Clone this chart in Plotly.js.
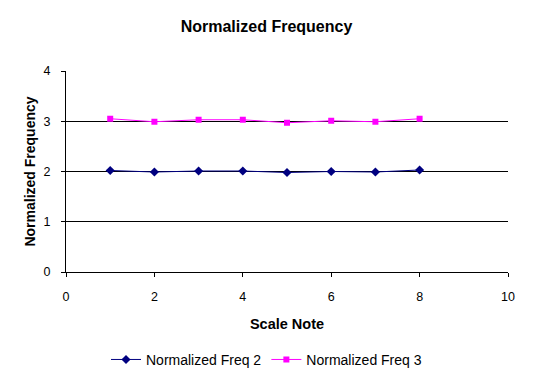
<!DOCTYPE html>
<html><head><meta charset="utf-8">
<script src="https://cdn.plot.ly/plotly-3.0.1.min.js"></script>
<style>html,body{margin:0;padding:0;background:#fff}#chart{width:533px;height:378px}</style>
</head><body><div id="chart"></div>
<script>
const scaleNotes = [1, 2, 3, 4, 5, 6, 7, 8];
const normFreq2 = [2.02, 1.99, 2.01, 2.01, 1.98, 2.00, 1.99, 2.03];
const normFreq3 = [3.05, 2.99, 3.03, 3.03, 2.97, 3.01, 2.99, 3.05];
const seriesNames = ['Normalized Freq 2', 'Normalized Freq 3'];

const font = 'Liberation Sans, Arial, sans-serif';
const traces = [
  {x: scaleNotes, y: normFreq2, name: seriesNames[0], mode: 'lines+markers',
   line: {color: '#000080', width: 1}, marker: {symbol: 'diamond', size: 7, color: '#000080'}},
  {x: scaleNotes, y: normFreq3, name: seriesNames[1], mode: 'lines+markers',
   line: {color: '#FF00FF', width: 1}, marker: {symbol: 'square', size: 6, color: '#FF00FF'}}
];
const layout = {
  width: 533, height: 378,
  margin: {l: 66, r: 25, t: 71, b: 106},
  paper_bgcolor: '#fff', plot_bgcolor: '#fff',
  font: {family: font, size: 12, color: '#000'},
  title: {text: '<b>Normalized Frequency</b>', font: {family: font, size: 16, color: '#000'}, x: 0.5, xanchor: 'center', y: 0.93, yanchor: 'middle', automargin: false},
  xaxis: {range: [0, 10], dtick: 2, tick0: 0, showgrid: false, zeroline: false, automargin: false,
    showline: true, linecolor: '#000', linewidth: 1, ticks: 'outside', ticklen: 4, tickcolor: '#000',
    ticklabelstandoff: 9,
    title: {text: '<b>Scale Note</b>', font: {family: font, size: 14.5}, standoff: 15},
    tickfont: {family: font, size: 12.5}},
  yaxis: {range: [0, 4], dtick: 1, tick0: 0, showgrid: true, gridcolor: '#000', gridwidth: 1, zeroline: false, automargin: false,
    showline: true, linecolor: '#000', linewidth: 1, ticks: 'outside', ticklen: 4, tickcolor: '#000',
    ticklabelstandoff: 8,
    title: {text: '<b>Normalized Frequency</b>', font: {family: font, size: 14}, standoff: 4},
    tickfont: {family: font, size: 12.5}},
  showlegend: true,
  legend: {orientation: 'h', x: 0.5, xanchor: 'center', xref: 'container', yref: 'container', y: 0.048, yanchor: 'middle',
    font: {family: font, size: 14}, itemwidth: 30, tracegroupgap: 0}
};
Plotly.newPlot('chart', traces, layout, {displayModeBar: false, staticPlot: true});
</script></body></html>
